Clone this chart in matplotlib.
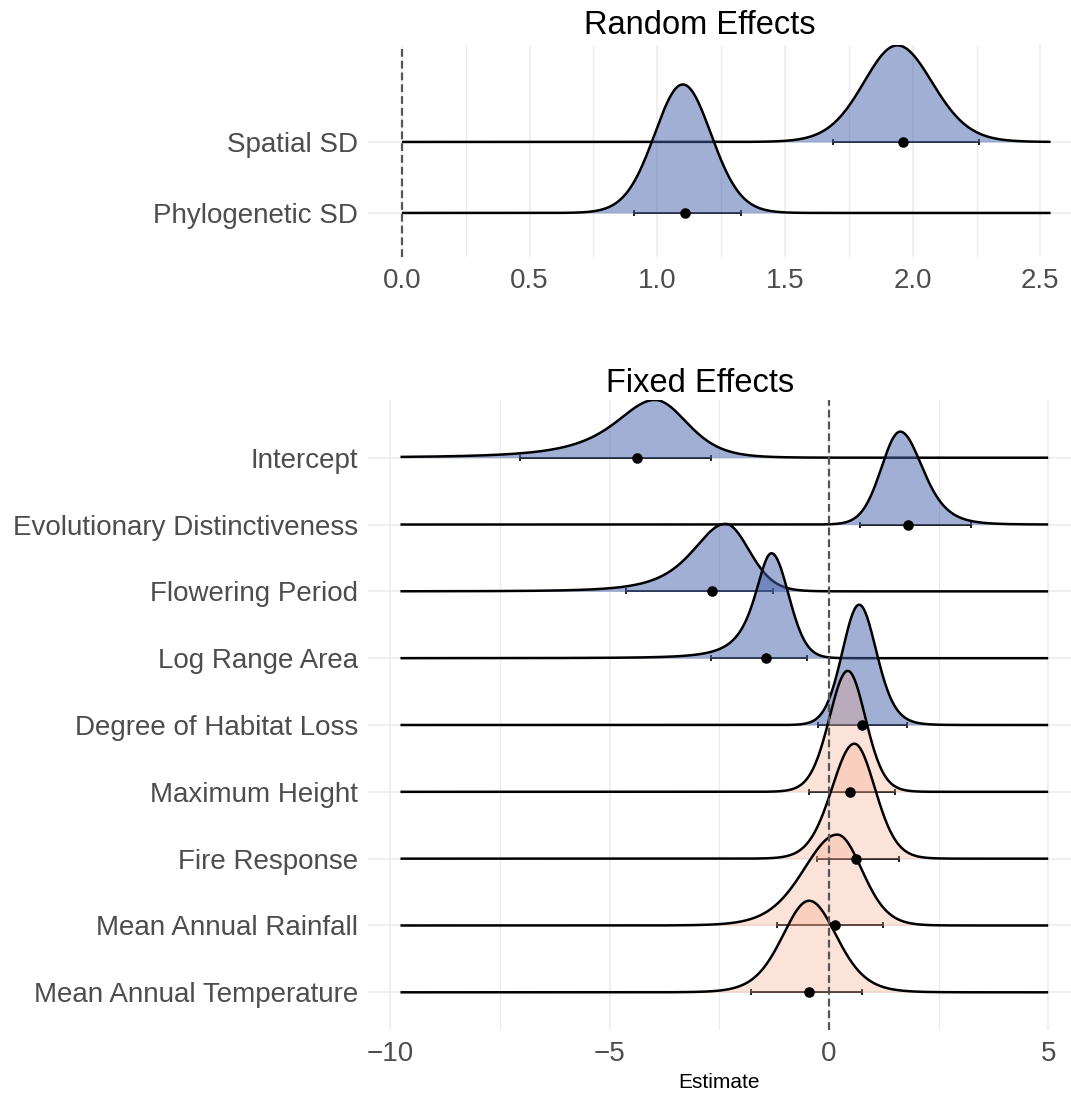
import numpy as np
import matplotlib.pyplot as plt
from matplotlib.ticker import MultipleLocator

plt.rcParams['font.family'] = ['Liberation Sans', 'DejaVu Sans']

# ---- Random effects (listed top to bottom) ----
rand_labels = ['Spatial SD', 'Phylogenetic SD']
rand_mode = [1.94, 1.10]
rand_hw_left = [0.158, 0.132]     # half width at half max, left side
rand_hw_right = [0.164, 0.132]
rand_nu_left = [20, 30]           # tail heaviness
rand_nu_right = [20, 30]
rand_height = [1.36, 1.81]        # peak height in row units
rand_point = [1.961, 1.109]
rand_lo = [1.687, 0.910]
rand_hi = [2.261, 1.326]
rand_range = [0.0, 2.54]

# ---- Fixed effects (listed top to bottom) ----
fix_labels = ['Intercept', 'Evolutionary Distinctiveness', 'Flowering Period',
              'Log Range Area', 'Degree of Habitat Loss', 'Maximum Height',
              'Fire Response', 'Mean Annual Rainfall', 'Mean Annual Temperature']
fix_mode = [-3.97, 1.625, -2.36, -1.31, 0.69, 0.43, 0.58, 0.19, -0.45]
fix_hw_left = [1.10, 0.51, 0.89, 0.45, 0.455, 0.50, 0.61, 0.92, 0.73]
fix_hw_right = [0.87, 0.61, 0.64, 0.46, 0.47, 0.48, 0.56, 0.67, 0.75]
fix_nu_left = [2, 30, 3, 2, 30, 20, 20, 10, 10]
fix_nu_right = [8, 6, 20, 30, 10, 20, 20, 20, 10]
fix_height = [0.864, 1.39, 1.01, 1.57, 1.80, 1.81, 1.72, 1.36, 1.37]
fix_point = [-4.38, 1.80, -2.67, -1.44, 0.745, 0.48, 0.61, 0.14, -0.45]
fix_lo = [-7.04, 0.714, -4.62, -2.70, -0.25, -0.46, -0.28, -1.18, -1.785]
fix_hi = [-2.69, 3.24, -1.28, -0.51, 1.77, 1.50, 1.60, 1.24, 0.745]
fix_group = ['b', 'b', 'b', 'b', 'b', 'o', 'o', 'o', 'o']
fix_range = [-9.77, 5.0]

fill_cols = {'b': ('#4361A9', 0.5), 'o': ('#F5A584', 0.3)}
text_col = '#4D4D4D'
grid_col = '#EBEBEB'


def side_shape(d, hw, nu):
    zh = np.sqrt(nu * (2 ** (2 / (nu + 1)) - 1))
    s = hw / zh
    return (1 + (d / s) ** 2 / nu) ** (-(nu + 1) / 2)


def ridge(x, mode, hwl, hwr, nul, nur):
    d = x - mode
    return np.where(d < 0, side_shape(d, hwl, nul), side_shape(d, hwr, nur))


def draw_panel(ax, labels, mode, hwl, hwr, nul, nur, height, point, lo, hi,
               groups, xr):
    n = len(labels)
    x = np.linspace(xr[0], xr[1], 800)
    for i in range(n):
        y0 = n - 1 - i
        z = 3 + i * 3
        ax.errorbar(point[i], y0, xerr=[[point[i] - lo[i]], [hi[i] - point[i]]],
                    fmt='none', ecolor='#1E1E1E', elinewidth=1.4, capsize=2.5,
                    capthick=1.4, zorder=z)
        yy = y0 + height[i] * ridge(x, mode[i], hwl[i], hwr[i], nul[i], nur[i])
        col, a = fill_cols[groups[i]]
        ax.fill_between(x, y0, yy, color=col, alpha=a, lw=0, zorder=z + 1)
        ax.plot(x, yy, color='black', lw=1.8, zorder=z + 2, solid_capstyle='butt')
    ax.axvline(0, color='#555555', lw=1.6, ls=(0, (3.5, 1.8)), zorder=3 * n + 5)
    ax.scatter(point, [n - 1 - i for i in range(n)], s=58, color='black',
               zorder=3 * n + 6, linewidths=0)
    ax.set_yticks(range(n), labels[::-1])
    ax.tick_params(axis='both', length=0, labelsize=20, labelcolor=text_col)
    ax.tick_params(axis='y', pad=7)
    ax.grid(True, which='major', color=grid_col, lw=1.1)
    ax.grid(True, which='minor', axis='x', color=grid_col, lw=0.9)
    ax.tick_params(which='minor', length=0)
    ax.set_axisbelow(True)
    for s in ax.spines.values():
        s.set_visible(False)


fig = plt.figure(figsize=(10.71, 10.94), dpi=100)
ax1 = fig.add_axes([0.3436, 0.7651, 0.6564, 0.1938])
ax2 = fig.add_axes([0.3436, 0.0585, 0.6564, 0.5759])

draw_panel(ax1, rand_labels, rand_mode, rand_hw_left, rand_hw_right,
           rand_nu_left, rand_nu_right, rand_height, rand_point, rand_lo,
           rand_hi, ['b', 'b'], rand_range)
ax1.set_xlim(-0.133, 2.62)
ax1.set_ylim(-0.62, 2.366)
ax1.xaxis.set_major_locator(MultipleLocator(0.5))
ax1.xaxis.set_minor_locator(MultipleLocator(0.25))
ax1.xaxis.set_major_formatter(lambda v, p: f'{v:.1f}')
ax1.tick_params(axis='x', pad=8)
ax1.set_title('Random Effects', fontsize=23.5, pad=8, x=0.472)

draw_panel(ax2, fix_labels, fix_mode, fix_hw_left, fix_hw_right,
           fix_nu_left, fix_nu_right, fix_height, fix_point, fix_lo,
           fix_hi, fix_group, fix_range)
ax2.set_xlim(-10.51, 5.52)
ax2.set_ylim(-0.564, 8.864)
ax2.xaxis.set_major_locator(MultipleLocator(5))
ax2.xaxis.set_minor_locator(MultipleLocator(2.5))
ax2.xaxis.set_major_formatter(lambda v, p: f'{v:.0f}'.replace('-', '\u2212'))
ax2.tick_params(axis='x', pad=8)
ax2.set_title('Fixed Effects', fontsize=23.5, pad=6, x=0.472)
ax2.set_xlabel('Estimate', fontsize=15, labelpad=4)

fig.savefig('out.png', dpi=100)
